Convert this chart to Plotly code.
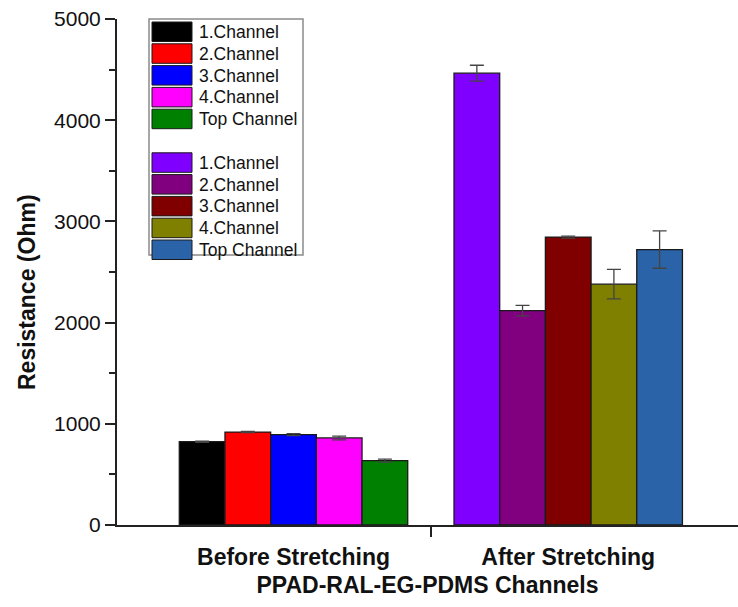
import plotly.graph_objects as go

# Resistance of the PPAD-RAL-EG-PDMS channels before and after stretching
groups = ["Before Stretching", "After Stretching"]
channels = ["1.Channel", "2.Channel", "3.Channel", "4.Channel", "Top Channel"]

before_vals = [823, 918, 893, 860, 636]
before_err = [6, 6, 10, 18, 14]
after_vals = [4465, 2118, 2845, 2380, 2722]
after_err = [78, 52, 10, 145, 185]

before_colors = ["#000000", "#FF0000", "#0000FF", "#FF00FF", "#008000"]
after_colors = ["#8000FF", "#800080", "#800000", "#808000", "#2A63A7"]

FONT = "Liberation Sans, Arial, sans-serif"
W, H = 738, 607
ML, MR, MT, MB = 117, 0, 19, 82
X_RANGE = [-0.6425, 1.618]
BAR_W = 0.1663

fig = go.Figure()

series = [(0, before_vals, before_err, before_colors),
          (1, after_vals, after_err, after_colors)]
for gi, vals, errs, cols in series:
    for i, (name, v, e, c) in enumerate(zip(channels, vals, errs, cols)):
        fig.add_trace(go.Bar(
            x=[gi], y=[v], name=name,
            width=BAR_W, offset=-2.5 * BAR_W + i * BAR_W,
            marker=dict(color=c, line=dict(color="#1a1a1a", width=1.3)),
            error_y=dict(type="data", array=[e], visible=True,
                         color="#444444", thickness=1.3, width=7),
            showlegend=False,
        ))

# Legend box drawn in pixel space, converted to paper coordinates
plot_w = W - ML - MR
plot_h = H - MT - MB


def px(xp):
    return (xp - ML) / plot_w


def py(yp):
    return (H - MB - yp) / plot_h


shapes = [dict(type="rect", xref="paper", yref="paper",
               x0=px(149), x1=px(303), y0=py(255), y1=py(19),
               line=dict(color="#8a8a8a", width=1.5), fillcolor="white", layer="above")]
annotations = []
row_pitch = 21.8
entries = [(ch, c, 22 + k * row_pitch) for k, (ch, c) in enumerate(zip(channels, before_colors))]
entries += [(ch, c, 22 + (k + 6) * row_pitch) for k, (ch, c) in enumerate(zip(channels, after_colors))]
for label, color, top in entries:
    shapes.append(dict(type="rect", xref="paper", yref="paper",
                       x0=px(152), x1=px(192), y0=py(top + 19.5), y1=py(top),
                       fillcolor=color, line=dict(color="#1a1a1a", width=1), layer="above"))
    annotations.append(dict(xref="paper", yref="paper", x=px(197), y=py(top + 10),
                            text=label, showarrow=False, xanchor="left", yanchor="middle",
                            font=dict(family=FONT, size=17.5, color="#111111")))

# Y-axis title
annotations.append(dict(xref="paper", yref="paper", x=px(27), y=py(292),
                        text="<b>Resistance (Ohm)</b>", textangle=-90, showarrow=False,
                        xanchor="center", yanchor="middle",
                        font=dict(family=FONT, size=23, color="#111111")))

fig.update_layout(
    width=W, height=H,
    margin=dict(l=ML, r=MR, t=MT, b=MB),
    paper_bgcolor="white", plot_bgcolor="white",
    barmode="overlay",
    showlegend=False,
    shapes=shapes,
    annotations=annotations,
    xaxis=dict(
        range=X_RANGE, showgrid=False, zeroline=False,
        showline=True, linecolor="#222222", linewidth=2,
        tickmode="array", tickvals=[0, 1],
        ticktext=["<b>%s</b>" % g for g in groups],
        ticks="", ticklabelstandoff=10,
        tickfont=dict(family=FONT, size=23, color="#111111"),
        minor=dict(tickmode="array", tickvals=[0.5], ticks="outside",
                   ticklen=10, tickwidth=2, tickcolor="#222222"),
        title=dict(text="<b>PPAD-RAL-EG-PDMS Channels</b>", standoff=8,
                   font=dict(family=FONT, size=23, color="#111111")),
    ),
    yaxis=dict(
        range=[0, 5000], showgrid=False, zeroline=False,
        showline=True, linecolor="#222222", linewidth=2,
        tickmode="array", tickvals=[0, 1000, 2000, 3000, 4000, 5000],
        ticks="outside", ticklen=10, tickwidth=2, tickcolor="#222222",
        ticklabelstandoff=0,
        tickfont=dict(family=FONT, size=21, color="#111111"),
        minor=dict(tickmode="array", tickvals=[500, 1500, 2500, 3500, 4500],
                   ticks="outside", ticklen=6, tickwidth=2, tickcolor="#222222"),
    ),
)

fig.write_html("out.html")
